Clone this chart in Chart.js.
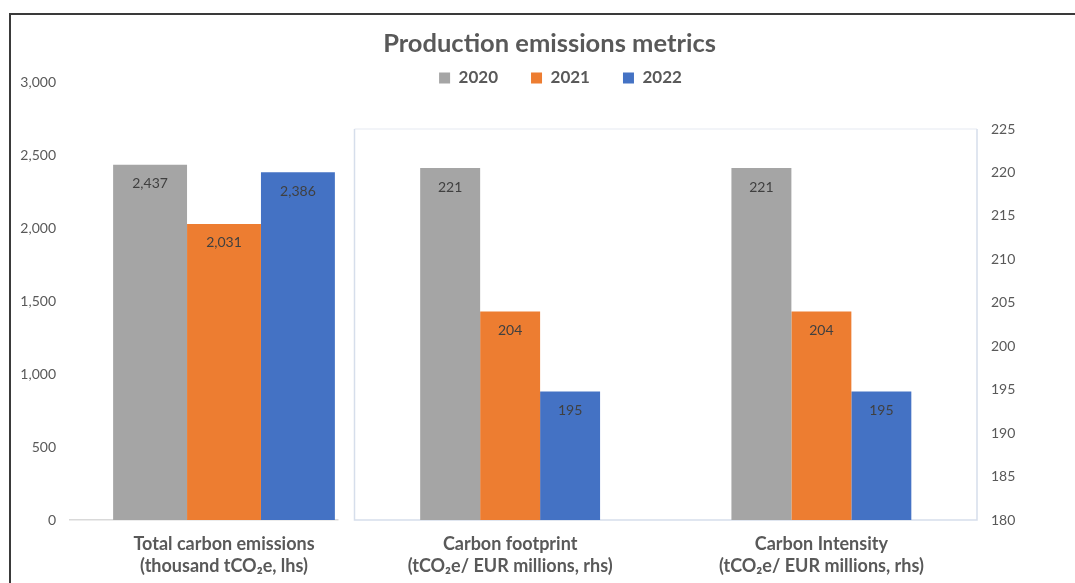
<!DOCTYPE html>
<html>
<head>
<meta charset="utf-8">
<script src="https://cdn.jsdelivr.net/npm/chart.js@4"></script>
<style>
  body { margin: 0; background: #fff; }
  #wrap { position: relative; width: 1075px; height: 583px; overflow: hidden; }
  #frame { position: absolute; left: 9px; top: 13px; width: 1200px; height: 700px;
           border-top: 2px solid #3a3a3a; border-left: 2px solid #3a3a3a; }
  .box { position: absolute; top: 0; height: 583px; }
</style>
</head>
<body>
<div id="wrap">
  <div id="frame"></div>
  <div class="box" style="left:0;width:1099px"><canvas id="lhs"></canvas></div>
  <div class="box" style="left:46px;width:1029px"><canvas id="rhs"></canvas></div>
</div>
<script>
const years = ['2020', '2021', '2022'];
const lhsLabels = [['Total carbon emissions', '(thousand tCO₂e, lhs)']];
const rhsLabels = [
  ['Carbon footprint', '(tCO₂e/ EUR millions, rhs)'],
  ['Carbon Intensity', '(tCO₂e/ EUR millions, rhs)']
];
// one value per year
const totalEmissions = [2437, 2031, 2386];
const carbonFootprint = [220.5, 204.0, 194.8];
const carbonIntensity = [220.5, 204.0, 194.8];

const yearColors = ['#a5a5a5', '#ed7d31', '#4472c4'];
const textColor = '#595959';
const fontFamily = 'Lato, "Open Sans", sans-serif';

// value written inside the top of each bar
const valueLabels = {
  id: 'valueLabels',
  afterDatasetsDraw(chart) {
    const ctx = chart.ctx;
    ctx.save();
    ctx.font = '14px ' + fontFamily;
    ctx.fillStyle = '#404040';
    ctx.textAlign = 'center';
    ctx.textBaseline = 'middle';
    chart.data.datasets.forEach((ds, i) => {
      chart.getDatasetMeta(i).data.forEach((bar, j) => {
        ctx.fillText(Math.round(ds.data[j]).toLocaleString('en-US'), bar.x, bar.y + 19);
      });
    });
    ctx.restore();
  }
};

// light box round the rhs plot area
const plotBox = {
  id: 'plotBox',
  beforeDatasetsDraw(chart) {
    const {ctx, chartArea: a} = chart;
    ctx.save();
    ctx.fillStyle = '#fff';
    ctx.fillRect(a.left - 16, a.top, a.right - a.left + 16, a.bottom - a.top + 2);
    ctx.lineWidth = 1.5;
    ctx.strokeStyle = '#eef1f6';
    ctx.beginPath();
    ctx.moveTo(a.left, a.top); ctx.lineTo(a.right, a.top);
    ctx.stroke();
    ctx.strokeStyle = '#d6deeb';
    ctx.beginPath();
    ctx.moveTo(a.left, a.top); ctx.lineTo(a.left, a.bottom);
    ctx.lineTo(a.right, a.bottom); ctx.lineTo(a.right, a.top);
    ctx.stroke();
    ctx.restore();
  }
};

function makeSets(values, catPct) {
  return years.map((y, i) => ({
    label: y,
    data: values.map(v => v[i]),
    backgroundColor: yearColors[i],
    borderWidth: 0,
    barPercentage: 1.0,
    categoryPercentage: catPct,
    xAxisID: 'x',
    yAxisID: 'y'
  }));
}

const xTicks = {
  color: textColor,
  font: { family: fontFamily, size: 18, weight: 'bold', lineHeight: 1.24 },
  padding: 13,
  maxRotation: 0,
  autoSkip: false
};
const hidden = { grid: { display: false, drawTicks: false }, border: { display: false }, ticks: { display: false } };

new Chart(document.getElementById('lhs'), {
  type: 'bar',
  data: {
    labels: lhsLabels,
    datasets: makeSets([totalEmissions], 0.72)
  },
  options: {
    responsive: true,
    maintainAspectRatio: false,
    animation: false,
    layout: { padding: 0 },
    plugins: {
      legend: { display: false },
      title: {
        display: true,
        text: 'Production emissions metrics',
        color: textColor,
        font: { family: fontFamily, size: 25.5, weight: 'bold' },
        padding: { top: 28.7, bottom: 23.4 }
      },
      tooltip: { enabled: false }
    },
    scales: {
      x: {
        grid: { display: false, drawTicks: false },
        border: { display: true, color: '#d9d9d9', width: 1.5 },
        ticks: xTicks,
        afterFit(s) { s.height = 63; }
      },
      y: {
        min: 0,
        max: 3000,
        ticks: { stepSize: 500, color: textColor, padding: 14, font: { family: fontFamily, size: 14 } },
        grid: { display: false, drawTicks: false },
        border: { display: false },
        afterFit(s) { s.width = 70; }
      },
      yR: { position: 'right', ...hidden, afterFit(s) { s.width = 721; } }
    }
  },
  plugins: [valueLabels]
});

new Chart(document.getElementById('rhs'), {
  type: 'bar',
  data: {
    labels: rhsLabels,
    datasets: makeSets([carbonFootprint, carbonIntensity], 0.578)
  },
  options: {
    responsive: true,
    maintainAspectRatio: false,
    animation: false,
    layout: { padding: { top: 36.5 } },
    plugins: {
      title: { display: false },
      legend: {
        position: 'top',
        labels: {
          boxWidth: 11,
          boxHeight: 11,
          padding: 33,
          color: textColor,
          font: { family: fontFamily, size: 17, weight: 'bold' }
        }
      },
      tooltip: { enabled: false }
    },
    scales: {
      x: {
        grid: { display: false, drawTicks: false },
        border: { display: false },
        ticks: xTicks,
        afterFit(s) { s.height = 63; }
      },
      xTop: { position: 'top', ...hidden, afterFit(s) { s.height = 32.5; } },
      yL: { position: 'left', ...hidden, afterFit(s) { s.width = 308.5; } },
      y: {
        position: 'right',
        min: 180,
        max: 225,
        ticks: { stepSize: 5, color: textColor, padding: 14, font: { family: fontFamily, size: 14 } },
        grid: { display: false, drawTicks: false },
        border: { display: false },
        afterFit(s) { s.width = 98; }
      }
    }
  },
  plugins: [plotBox, valueLabels]
});
</script>
</body>
</html>
